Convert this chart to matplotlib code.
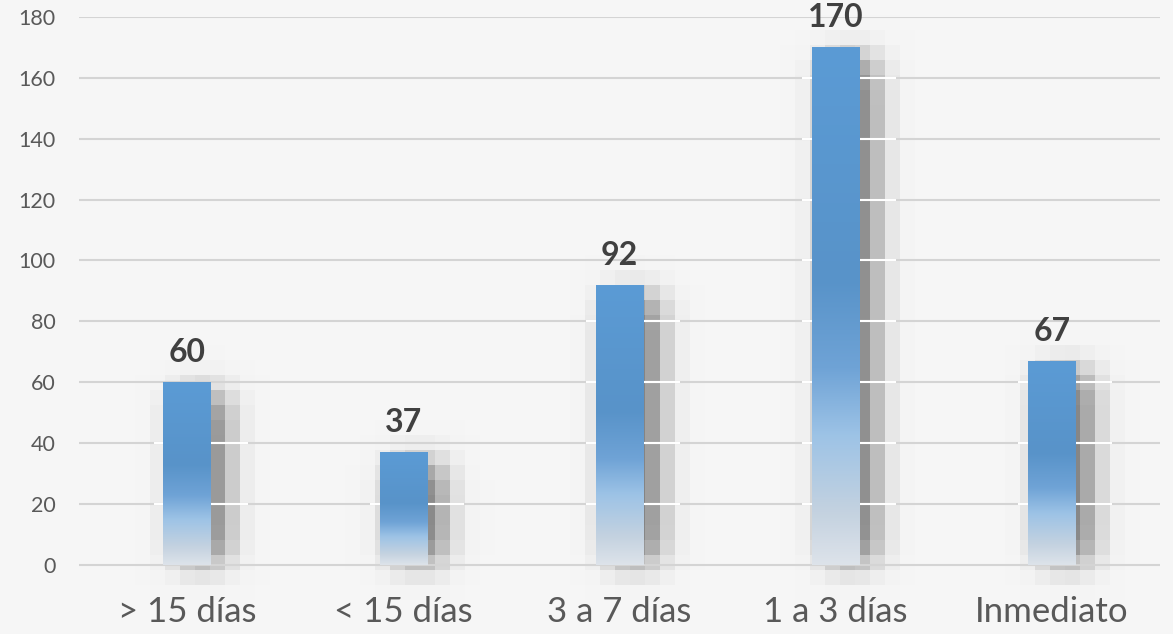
import numpy as np
import matplotlib.pyplot as plt
from matplotlib.colors import LinearSegmentedColormap

categorias = ["> 15 días", "< 15 días", "3 a 7 días", "1 a 3 días", "Inmediato"]
valores = [60, 37, 92, 170, 67]
marcas_y = list(range(0, 181, 20))

W, H, DPI = 1173, 634, 100
FONDO = 0.965
ANCHO = 0.22

plt.rcParams['font.family'] = ['Lato', 'DejaVu Sans']

fig = plt.figure(figsize=(W / DPI, H / DPI), dpi=DPI, facecolor=(FONDO,) * 3)
ax = fig.add_axes([79 / W, 51 / H, 1081 / W, 566 / H])
ax.set_facecolor('none')
ax.set_xlim(-0.5, len(categorias) - 0.5)
ax.set_ylim(-6, 180)
for s in ax.spines.values():
    s.set_visible(False)
ax.set_yticks(marcas_y)
ax.set_xticks(range(len(categorias)), categorias)
ax.tick_params(length=0)
ax.tick_params(axis='y', labelsize=15.5, colors='#595959', pad=17)
ax.tick_params(axis='x', labelsize=25, colors='#595959', pad=9)
ax.grid(axis='y', color='#d4d4d4', lw=1.5)
ax.set_axisbelow(True)

xs = np.arange(len(valores))


def a_pix(x, y):
    px, py = ax.transData.transform((x, y))
    return px, H - py


# sombra difusa a la derecha de cada barra, pixelada en bloques
sombra = np.zeros((H, W))
for x, v in zip(xs, valores):
    x0, y0 = a_pix(x - ANCHO / 2, v)
    x1, y1 = a_pix(x + ANCHO / 2, 0)
    sombra[int(y0 + 12):int(y1 - 2), int(x0 + 16):int(x1 + 16)] = 1
sig = 14
k = np.exp(-0.5 * (np.arange(-45, 46) / sig) ** 2)
k /= k.sum()
sombra = np.apply_along_axis(lambda r: np.convolve(r, k, 'same'), 1, sombra)
sombra = np.apply_along_axis(lambda c: np.convolve(c, k, 'same'), 0, sombra)
B = 15
hb, wb = -(-H // B), -(-W // B)
tmp = np.zeros((hb * B, wb * B))
tmp[:H, :W] = sombra
bloques = tmp.reshape(hb, B, wb, B).mean(axis=(1, 3))
sombra = np.repeat(np.repeat(bloques, B, 0), B, 1)[:H, :W]
img = np.clip(FONDO - 0.5 * sombra, 0, 1)
fig.figimage(np.dstack([img] * 3), xo=0, yo=0, origin='upper', zorder=-1)

# lineas de rejilla blancas sobre la sombra
for x, v in zip(xs, valores):
    for t in marcas_y[1:]:
        if t < v:
            ax.hlines(t, x - ANCHO / 2 - 0.045, x + ANCHO / 2 + 0.17,
                      color='white', lw=1.5, zorder=1.5)

paradas = [(0.0, '#5b9bd5'), (0.45, '#5893c9'), (0.62, '#6fa3d6'),
           (0.75, '#9dc3e6'), (0.9, '#c4d2e0'), (1.0, '#dde3ea')]
cmap = LinearSegmentedColormap.from_list('barra', paradas)
grad = np.linspace(0, 1, 256)[:, None]
for x, v in zip(xs, valores):
    ax.imshow(grad, cmap=cmap, extent=(x - ANCHO / 2, x + ANCHO / 2, 0, v),
              aspect='auto', origin='upper', zorder=2, interpolation='bilinear')
    ax.annotate(str(v), (x, v), xytext=(0, 11), textcoords='offset points',
                ha='center', va='bottom', fontsize=23, fontweight='bold',
                color='#404040')

ax.set_xlim(-0.5, len(categorias) - 0.5)
ax.set_ylim(-6, 180)

fig.savefig('out.png', dpi=DPI, facecolor=fig.get_facecolor())
